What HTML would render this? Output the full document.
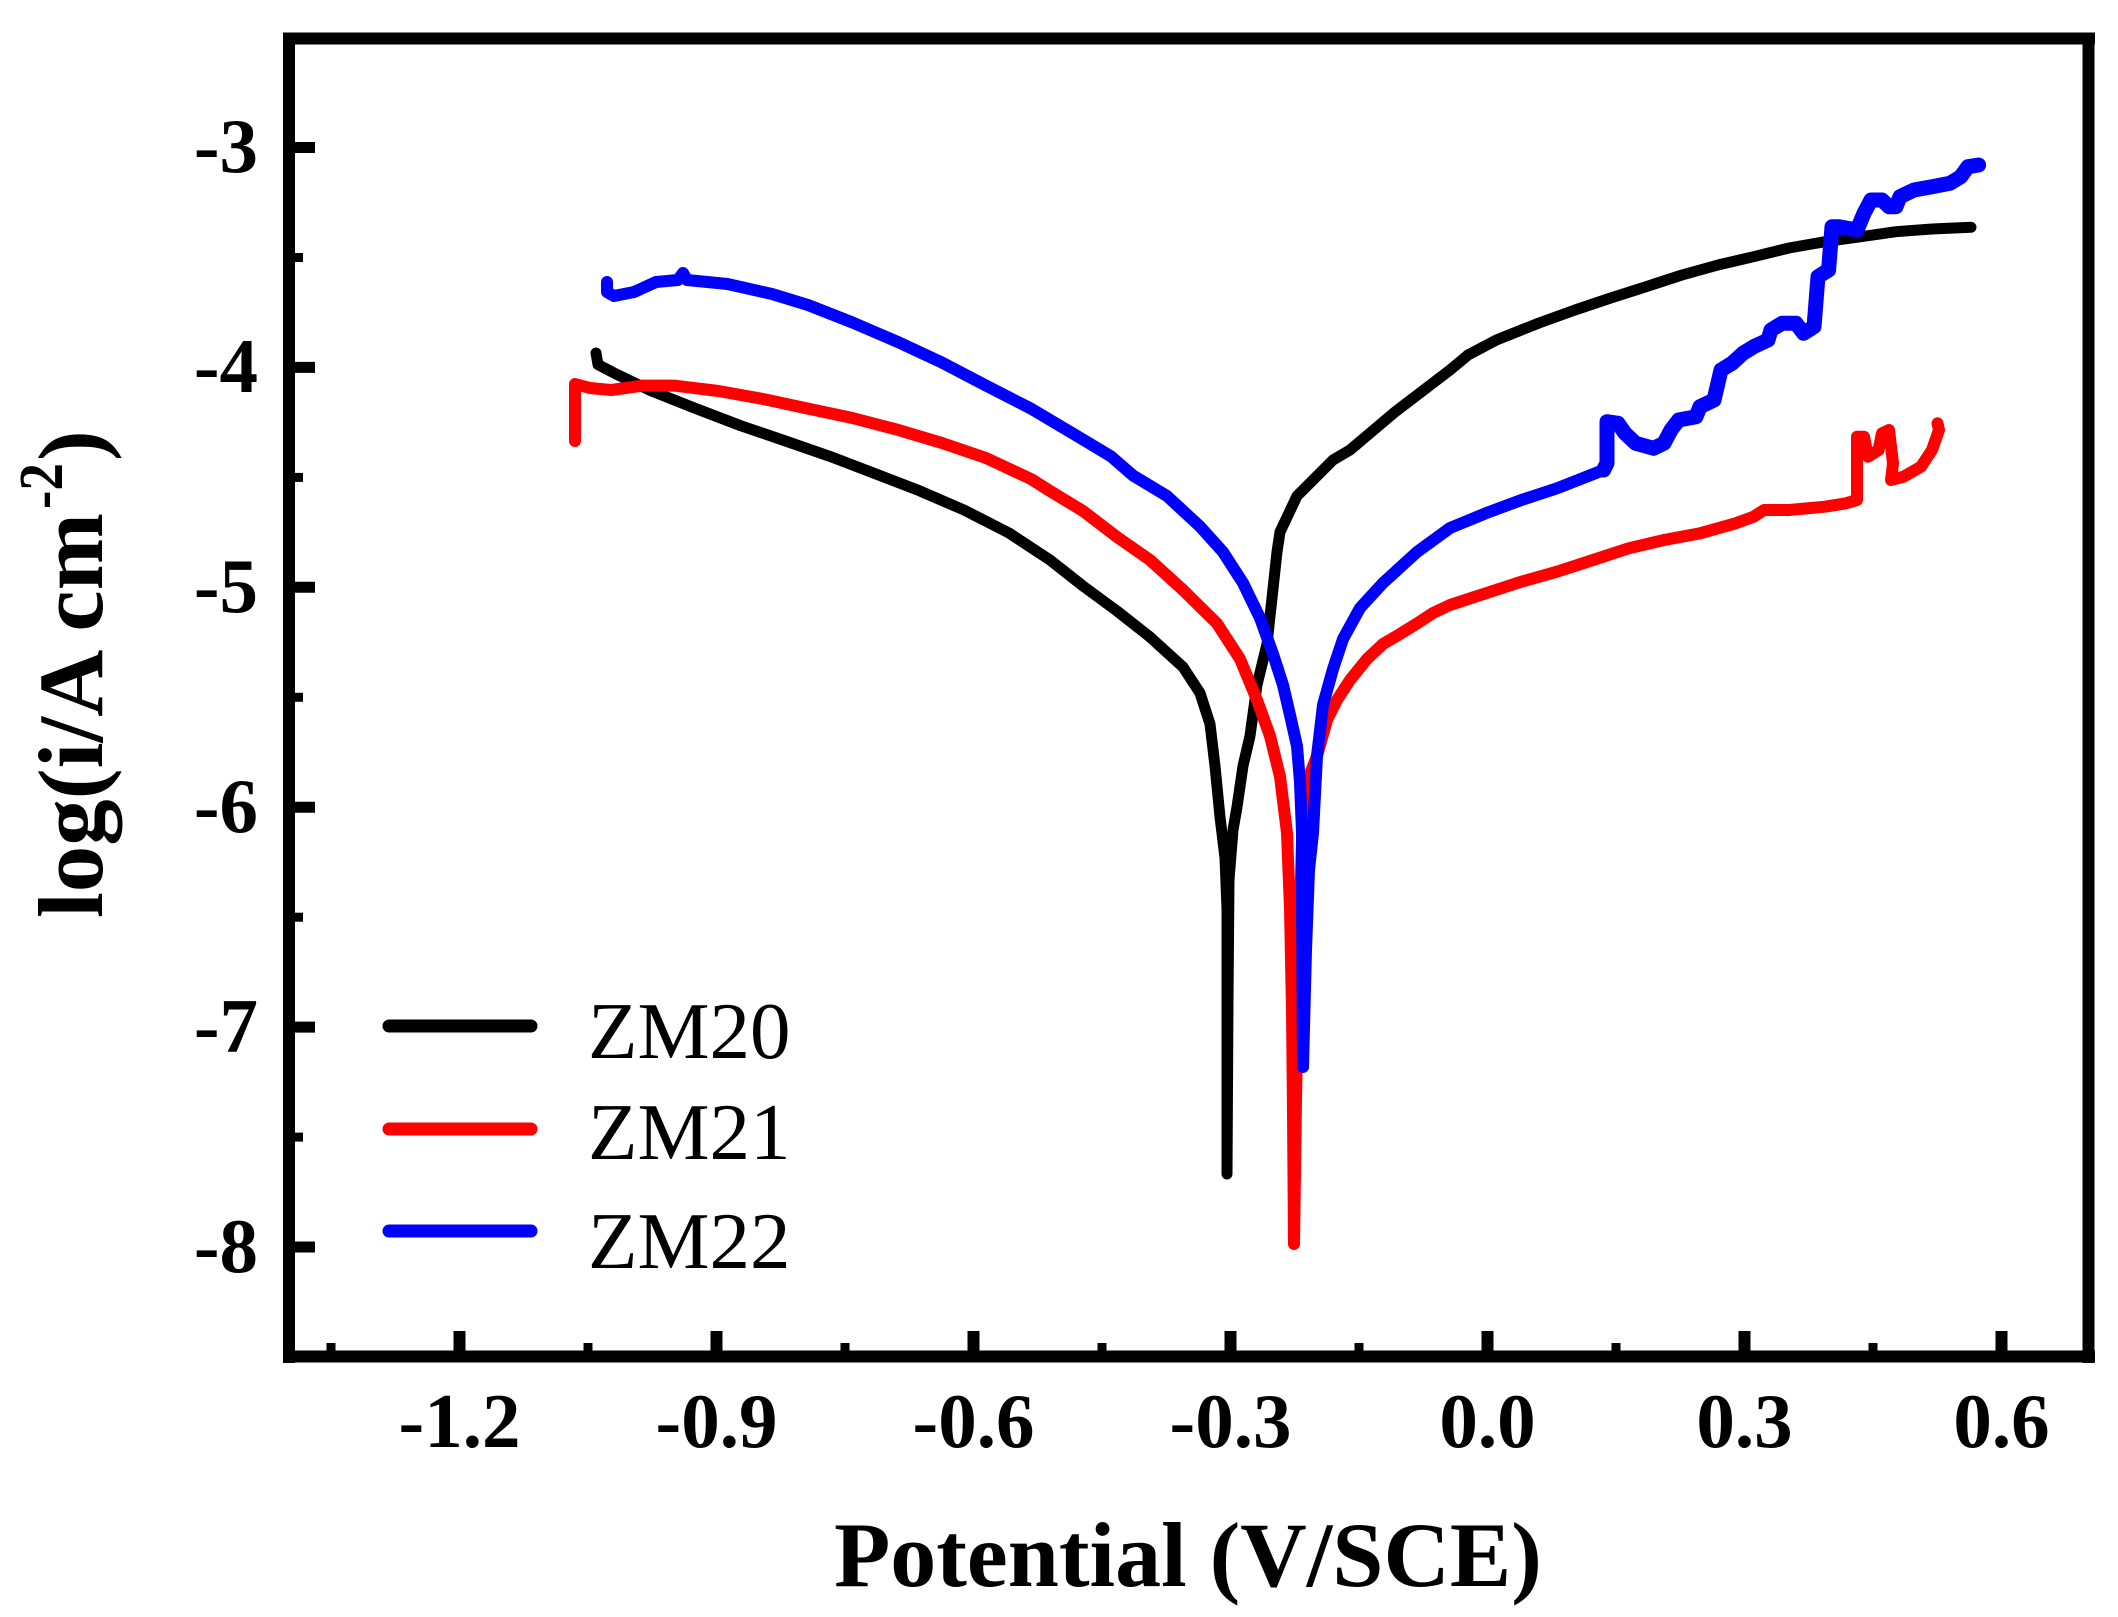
<!DOCTYPE html>
<html>
<head>
<meta charset="utf-8">
<style>
  html, body { margin: 0; padding: 0; background: #ffffff; }
  svg { display: block; }
  .tick { font-family: "Liberation Serif", "Times New Roman", serif; font-weight: bold; font-size: 77px; fill: #000; }
  .leg { font-family: "Liberation Serif", "Times New Roman", serif; font-weight: normal; font-size: 81px; fill: #000; }
  .ttl { font-family: "Liberation Serif", "Times New Roman", serif; font-weight: bold; fill: #000; }
</style>
</head>
<body>
<svg width="2118" height="1617" viewBox="0 0 2118 1617" xmlns="http://www.w3.org/2000/svg">
  <rect x="0" y="0" width="2118" height="1617" fill="#ffffff"/>

  <!-- Frame -->
  <g stroke="#000" stroke-width="12" fill="none">
    <line x1="289" y1="33" x2="289" y2="1363"/>
    <line x1="283" y1="38.5" x2="2095" y2="38.5"/>
    <line x1="2088.5" y1="33" x2="2088.5" y2="1363"/>
    <line x1="283" y1="1356.5" x2="2095" y2="1356.5"/>
  </g>

  <!-- X major ticks -->
  <g stroke="#000" stroke-width="12">
    <line x1="459.5" y1="1351" x2="459.5" y2="1331"/>
    <line x1="716.5" y1="1351" x2="716.5" y2="1331"/>
    <line x1="973.5" y1="1351" x2="973.5" y2="1331"/>
    <line x1="1230.5" y1="1351" x2="1230.5" y2="1331"/>
    <line x1="1487.5" y1="1351" x2="1487.5" y2="1331"/>
    <line x1="1744.5" y1="1351" x2="1744.5" y2="1331"/>
    <line x1="2001.5" y1="1351" x2="2001.5" y2="1331"/>
  </g>
  <!-- X minor ticks -->
  <g stroke="#000" stroke-width="9">
    <line x1="331" y1="1351" x2="331" y2="1343"/>
    <line x1="588" y1="1351" x2="588" y2="1343"/>
    <line x1="845" y1="1351" x2="845" y2="1343"/>
    <line x1="1102" y1="1351" x2="1102" y2="1343"/>
    <line x1="1359" y1="1351" x2="1359" y2="1343"/>
    <line x1="1616" y1="1351" x2="1616" y2="1343"/>
    <line x1="1873" y1="1351" x2="1873" y2="1343"/>
  </g>
  <!-- Y major ticks -->
  <g stroke="#000" stroke-width="11">
    <line x1="294" y1="147.5" x2="315" y2="147.5"/>
    <line x1="294" y1="367.4" x2="315" y2="367.4"/>
    <line x1="294" y1="587.3" x2="315" y2="587.3"/>
    <line x1="294" y1="807.2" x2="315" y2="807.2"/>
    <line x1="294" y1="1027.1" x2="315" y2="1027.1"/>
    <line x1="294" y1="1247" x2="315" y2="1247"/>
  </g>
  <!-- Y minor ticks -->
  <g stroke="#000" stroke-width="9">
    <line x1="294" y1="257.5" x2="303" y2="257.5"/>
    <line x1="294" y1="477.4" x2="303" y2="477.4"/>
    <line x1="294" y1="697.3" x2="303" y2="697.3"/>
    <line x1="294" y1="917.2" x2="303" y2="917.2"/>
    <line x1="294" y1="1137.1" x2="303" y2="1137.1"/>
  </g>

  <!-- Y tick labels -->
  <g class="tick" text-anchor="end">
    <text x="258" y="172">-3</text>
    <text x="258" y="392">-4</text>
    <text x="258" y="612">-5</text>
    <text x="258" y="832">-6</text>
    <text x="258" y="1052">-7</text>
    <text x="258" y="1272">-8</text>
  </g>
  <!-- X tick labels -->
  <g class="tick" text-anchor="middle">
    <text x="459.5" y="1447">-1.2</text>
    <text x="716.5" y="1447">-0.9</text>
    <text x="973.5" y="1447">-0.6</text>
    <text x="1230.5" y="1447">-0.3</text>
    <text x="1487.5" y="1447">0.0</text>
    <text x="1744.5" y="1447">0.3</text>
    <text x="2001.5" y="1447">0.6</text>
  </g>

  <!-- Axis titles -->
  <text class="ttl" x="1188" y="1586" font-size="92" text-anchor="middle">Potential (V/SCE)</text>
  <g transform="translate(102,0) rotate(-90)">
    <text class="ttl" x="-918" y="0" font-size="92" textLength="405" lengthAdjust="spacingAndGlyphs">log(i/A cm</text>
    <text class="ttl" x="-509" y="-40" font-size="62" textLength="46" lengthAdjust="spacingAndGlyphs">-2</text>
    <text class="ttl" x="-461" y="0" font-size="92">)</text>
  </g>

  <!-- Curves -->
  <g fill="none" stroke-linejoin="round" stroke-linecap="round">
    <!-- ZM20 black -->
    <polyline stroke="#000" stroke-width="11" points="
      596,353 598,364.6 616,374 651.6,391 696,408.6 741,425.8 785.5,441 830,456.4 875,473.6 919.5,490.8
      964,510 1009,533 1050,560 1083,586 1117,611 1150,637 1183,667 1200,693 1210,724 1215,766
      1220,817 1225,858 1227,909 1227,1174 1228,1000 1229,880 1233,830 1237,807 1243,766 1250,736
      1257,685 1267,644 1272,598 1277,552 1280,532 1297,496 1307,486 1333,460 1350,450 1395,412
      1450,370 1468,355 1496.4,340 1539,323 1575,310 1610.7,298 1646,286.7 1682,275 1718,265
      1753.6,256.7 1789,248 1825,241.7 1861,236.7 1896,231.7 1932,229 1971,227.3"/>
    <!-- ZM21 red -->
    <polyline stroke="#ff0000" stroke-width="12" points="
      575,441 575,384 590,388 611,390 643,385.6 674,385.6 718.6,391 763,399 808,408.6 852.5,418
      897,429.6 942,443 986,458 1031,479 1050,491 1083,511 1117,537 1150,560 1183,590 1217,623.5
      1240,659 1257,700 1270,736 1280,776.5 1287,833 1290,909 1292,1011 1293,1113 1294,1244
      1296,1100 1299,950 1302,840 1307,782 1317,756 1327,720 1337,700 1350,680 1367,659 1383,644
      1400,634 1417,623.5 1433,613 1450,605 1485.7,593.3 1521.4,581.7 1557,571.7 1593,560
      1628.6,548.3 1664,540 1700,533.3 1735.7,523.3 1753.6,516.7 1764,510 1789,510 1825,506.7
      1846,503.3 1857,500 1857,436.7 1864,436.7 1868,456.7 1878.6,450 1882,433.3 1889,430
      1893,463.3 1891,480 1903.6,476.7 1921,466.7 1932,450 1939,430 1937.5,423.3"/>
    <!-- ZM22 blue -->
    <polyline stroke="#0000ff" stroke-width="12" points="
      607,282 607,292 614,296 634,292 656,282 678,280 683,273 687,280 727.5,284 772,294
      808,305 852.5,322.5 897,341.6 942,362.6 986,385.6 1031,408.6 1076,435.4 1111,456.4
      1133,475.5 1167,496 1200,526.5 1223,552 1243,583 1260,618 1273,654 1283,685 1290,715
      1297,746 1300,782 1302,833 1302,909 1303,1067 1306,950 1309,870 1313,833 1317,756
      1323,705 1333,669 1343,639 1360,608 1383,583 1417,552 1450,528 1485.7,513.3 1521.4,500
      1557,488.3 1603.6,470 1607,463.3 1607,421.7 1618,423.3 1625,433.3 1635.7,443.3
      1653.6,448.3 1664,443.3 1671,430 1678.6,420 1696,416.7 1700,406.7 1714,400 1721,370
      1732,363.3 1743,353.3 1753.6,346.7 1768,340 1771,330 1782,323.3 1796,323.3 1803.6,333.3
      1814,326.7 1818,276.7 1828.6,270 1832,226.7 1839,226.7 1857,230 1864,213.3 1871,200
      1882,200 1889,206.7 1896,206.7 1900,196.7 1914,190 1932,186.7 1950,183.3 1960.7,176.7
      1968,166.7 1978.6,165"/>
    <!-- blue noisy thickening -->
    <polyline stroke="#0000ff" stroke-width="15" points="
      1603.6,470 1607,463.3 1607,421.7 1618,423.3 1625,433.3 1635.7,443.3
      1653.6,448.3 1664,443.3 1671,430 1678.6,420 1696,416.7 1700,406.7 1714,400 1721,370
      1732,363.3 1743,353.3 1753.6,346.7 1768,340 1771,330 1782,323.3 1796,323.3 1803.6,333.3
      1814,326.7 1818,276.7 1828.6,270 1832,226.7 1839,226.7 1857,230 1864,213.3 1871,200
      1882,200 1889,206.7 1896,206.7 1900,196.7 1914,190 1932,186.7 1950,183.3 1960.7,176.7
      1968,166.7 1978.6,165"/>
  </g>

  <!-- Legend -->
  <g stroke-linecap="round" stroke-width="13">
    <line x1="389" y1="1026" x2="531" y2="1026" stroke="#000"/>
    <line x1="389" y1="1129" x2="531" y2="1129" stroke="#ff0000"/>
    <line x1="389" y1="1231" x2="531" y2="1231" stroke="#0000ff"/>
  </g>
  <g class="leg">
    <text x="588" y="1058">ZM20</text>
    <text x="588" y="1159">ZM21</text>
    <text x="588" y="1268">ZM22</text>
  </g>
</svg>
</body>
</html>
